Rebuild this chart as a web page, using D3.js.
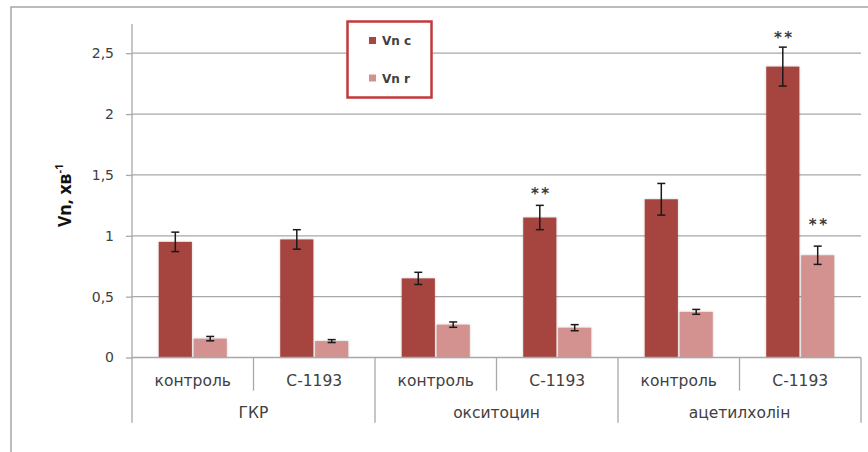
<!DOCTYPE html>
<html>
<head>
<meta charset="utf-8">
<script src="https://cdn.jsdelivr.net/npm/d3@7"></script>
<style>
  html, body { margin: 0; padding: 0; background: #fff; }
  svg { display: block; }
  text { font-family: "DejaVu Sans", "Open Sans", sans-serif; }
</style>
</head>
<body>
<svg id="chart" width="868" height="452"></svg>
<script>
// Sub-categories (bottom level) and the groups they belong to
const subLabels = ["контроль", "С-1193", "контроль", "С-1193", "контроль", "С-1193"];
const groupLabels = ["ГКР", "окситоцин", "ацетилхолін"];
const seriesNames = ["Vn c", "Vn r"];

// Mean values and error (± SE) for each series
const vnC = [0.95, 0.97, 0.65, 1.15, 1.30, 2.39];
const vnCErr = [0.08, 0.08, 0.05, 0.10, 0.13, 0.16];
const vnR = [0.155, 0.135, 0.27, 0.245, 0.375, 0.84];
const vnRErr = [0.018, 0.012, 0.022, 0.025, 0.02, 0.075];

// Significance marks: [series index, category index, label, value where the mark sits]
const sigMarks = [
  [0, 3, "**", 1.38],
  [0, 5, "**", 2.66],
  [1, 5, "**", 1.12]
];

const yTicks = [0, 0.5, 1, 1.5, 2, 2.5];

const colors = ["#a64541", "#d39190"];

const svg = d3.select("#chart");

const plotLeft = 132, plotRight = 861, plotTop = 24, baseY = 357.5;
const subLineBottom = 390.7, groupLineBottom = 422.7;
const lineColor = "#a8a8a8", textColor = "#404040";

// outer frame
svg.append("rect")
  .attr("x", 11).attr("y", 7)
  .attr("width", 900).attr("height", 500)
  .attr("fill", "none").attr("stroke", "#a6a6a6").attr("stroke-width", 1.5);

const defs = svg.append("defs");
const f = defs.append("filter").attr("id", "glow")
  .attr("x", "-20%").attr("y", "-10%").attr("width", "140%").attr("height", "120%");
f.append("feDropShadow").attr("dx", 0).attr("dy", 0).attr("stdDeviation", 1.3)
  .attr("flood-color", "#000").attr("flood-opacity", 0.22);

const y = d3.scaleLinear().domain([0, 2.74]).range([baseY, plotTop]);
const x = d3.scaleBand().domain(d3.range(subLabels.length)).range([plotLeft, plotRight]).padding(0);
const groupW = x.bandwidth() * 0.56;
const xs = d3.scaleBand().domain([0, 1]).range([0, groupW]).paddingInner(0.05);

// gridlines
svg.append("g").selectAll("line")
  .data(yTicks.filter(d => d > 0))
  .join("line")
  .attr("x1", plotLeft).attr("x2", plotRight)
  .attr("y1", d => y(d)).attr("y2", d => y(d))
  .attr("stroke", lineColor).attr("stroke-width", 1.3);

// value axis
const yAxis = d3.axisLeft(y).tickValues(yTicks)
  .tickFormat(d => d3.format("~g")(d).replace(".", ","))
  .tickSize(6).tickPadding(12);
const ya = svg.append("g").attr("transform", `translate(${plotLeft},0)`).call(yAxis);
ya.select(".domain").remove();
ya.selectAll(".tick line").attr("stroke", lineColor).attr("stroke-width", 1.3);
ya.selectAll(".tick text").attr("fill", textColor)
  .style("font-family", "'DejaVu Sans', sans-serif").style("font-size", "14px");

// vertical axis line running down through the category label area
svg.append("line")
  .attr("x1", plotLeft).attr("x2", plotLeft).attr("y1", plotTop).attr("y2", groupLineBottom)
  .attr("stroke", lineColor).attr("stroke-width", 1.3);

// bars
const data = [];
subLabels.forEach((s, i) => {
  data.push({ cat: i, s: 0, v: vnC[i], e: vnCErr[i] });
  data.push({ cat: i, s: 1, v: vnR[i], e: vnRErr[i] });
});
const barX = d => x(d.cat) + (x.bandwidth() - groupW) / 2 + xs(d.s);

svg.append("g").selectAll("rect")
  .data(data)
  .join("rect")
  .attr("x", barX)
  .attr("y", d => y(d.v))
  .attr("width", xs.bandwidth())
  .attr("height", d => y(0) - y(d.v))
  .attr("fill", d => colors[d.s])
  .attr("filter", "url(#glow)");

// error bars
const eb = svg.append("g").attr("stroke", "#1a1a1a").attr("stroke-width", 1.5);
data.forEach(d => {
  const cx = barX(d) + xs.bandwidth() / 2;
  const y1 = y(d.v + d.e), y2 = y(d.v - d.e);
  eb.append("line").attr("x1", cx).attr("x2", cx).attr("y1", y1).attr("y2", y2);
  eb.append("line").attr("x1", cx - 4).attr("x2", cx + 4).attr("y1", y1).attr("y2", y1);
  eb.append("line").attr("x1", cx - 4).attr("x2", cx + 4).attr("y1", y2).attr("y2", y2);
});

// significance marks
svg.append("g").selectAll("text")
  .data(sigMarks)
  .join("text")
  .attr("x", d => barX({ cat: d[1], s: d[0] }) + xs.bandwidth() / 2 + 1.5)
  .attr("y", d => y(d[3]) + 9)
  .attr("text-anchor", "middle")
  .attr("fill", "#3a3a3a")
  .style("font-size", "15px")
  .style("font-weight", "bold")
  .style("letter-spacing", "2.5px")
  .text(d => d[2]);

// category axis baseline
svg.append("line")
  .attr("x1", plotLeft).attr("x2", plotRight).attr("y1", baseY).attr("y2", baseY)
  .attr("stroke", lineColor).attr("stroke-width", 1.3);

// separators between sub-categories and groups
d3.range(1, subLabels.length + 1).forEach(i => {
  const xx = i === subLabels.length ? plotRight : x(i);
  svg.append("line")
    .attr("x1", xx).attr("x2", xx).attr("y1", baseY)
    .attr("y2", i % 2 === 0 ? groupLineBottom : subLineBottom)
    .attr("stroke", lineColor).attr("stroke-width", 1.3);
});

// sub-category labels
svg.append("g").selectAll("text")
  .data(subLabels)
  .join("text")
  .attr("x", (d, i) => x(i) + x.bandwidth() / 2)
  .attr("y", 385.5)
  .attr("text-anchor", "middle")
  .attr("fill", textColor)
  .style("font-size", "15.5px")
  .text(d => d);

// group labels
svg.append("g").selectAll("text")
  .data(groupLabels)
  .join("text")
  .attr("x", (d, i) => x(i * 2 + 1))
  .attr("y", 418)
  .attr("text-anchor", "middle")
  .attr("fill", textColor)
  .style("font-size", "15.5px")
  .text(d => d);

// value axis title
const yt = svg.append("text")
  .attr("transform", "translate(71,227) rotate(-90)")
  .attr("text-anchor", "start")
  .attr("fill", "#111")
  .style("font-family", "'Open Sans', sans-serif")
  .style("font-size", "17.5px")
  .style("font-weight", "bold");
yt.append("tspan").text("Vn, хв");
yt.append("tspan").attr("dy", -8).style("font-size", "11px").text("-1");

// legend
const lg = svg.append("g");
lg.append("rect")
  .attr("x", 347.5).attr("y", 21.5).attr("width", 84).attr("height", 76)
  .attr("fill", "#fff").attr("stroke", "#c0393b").attr("stroke-width", 2.5);
seriesNames.forEach((n, i) => {
  const cy = 40.5 + i * 37.5;
  lg.append("rect").attr("x", 369).attr("y", cy - 3.5).attr("width", 7).attr("height", 7)
    .attr("fill", colors[i]);
  lg.append("text").attr("x", 382).attr("y", cy + 4.5)
    .attr("fill", textColor).style("font-size", "12px").style("font-weight", "bold")
    .text(n);
});
</script>
</body>
</html>
